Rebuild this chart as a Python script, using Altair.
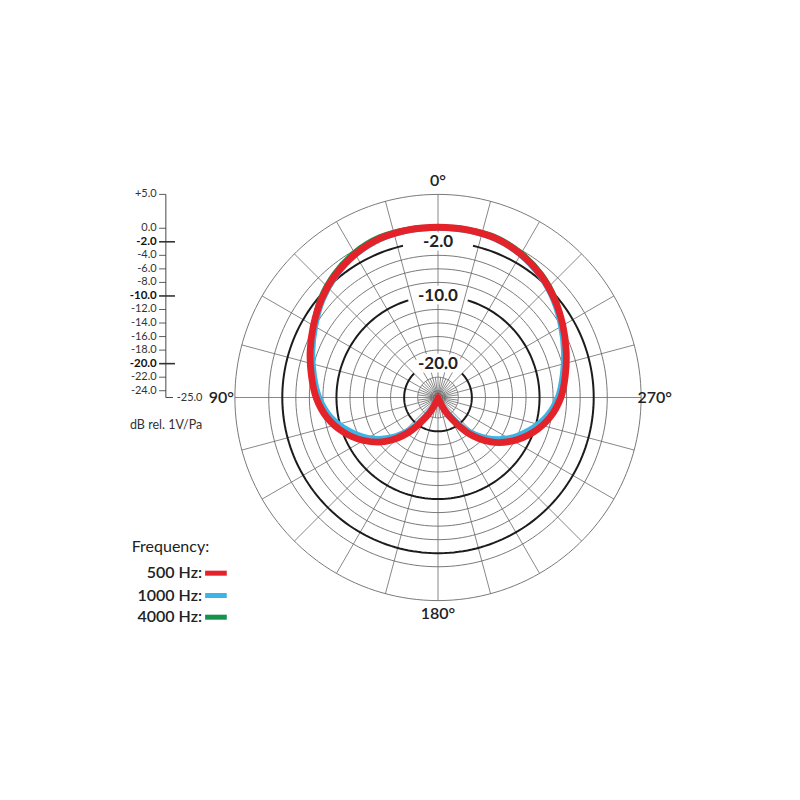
import altair as alt
import pandas as pd
import numpy as np

# ---------------- data ----------------
ANGLES = list(range(0, 360, 10))  # degrees, counter-clockwise from top (90 on the left)

DB_500 = [0.15, 0.15, 0.0, -0.55, -1.4, -2.5, -3.75, -4.9, -6.0, -7.0,
          -8.3, -10.1, -12.3, -14.9, -18.3, -22.0, -24.4, -24.9,
          -25.0,
          -24.9, -24.4, -22.0, -18.2, -14.8, -12.2, -10.0, -8.2, -6.85,
          -5.9, -4.85, -3.7, -2.5, -1.4, -0.55, 0.0, 0.15]
DB_1000 = [0.1, 0.1, -0.05, -0.6, -1.5, -2.65, -4.0, -5.2, -6.35, -7.4,
           -8.8, -10.8, -13.0, -15.7, -19.0, -22.6, -24.6, -24.95,
           -25.0,
           -24.95, -24.6, -22.6, -18.9, -15.6, -12.9, -10.7, -8.7, -7.25,
           -6.25, -5.15, -3.95, -2.65, -1.5, -0.6, -0.05, 0.1]
DB_4000 = [0.15, 0.25, 0.25, -0.25, -1.15, -2.3, -3.75, -5.0, -6.1, -7.1,
           -8.5, -10.4, -12.6, -15.2, -18.6, -22.3, -24.5, -24.9,
           -25.0,
           -24.9, -24.5, -22.3, -18.5, -15.1, -12.5, -10.2, -8.4, -6.95,
           -6.0, -4.95, -3.75, -2.35, -1.2, -0.35, 0.2, 0.2]

SERIES = ["500 Hz", "1000 Hz", "4000 Hz"]
COLORS = ["#e3222a", "#3cb4e6", "#16924a"]
WIDTHS = [6.8, 6.5, 5.0]

DB_MIN, DB_MAX = -25.0, 5.0
SCALE_DB = [5.0, 0.0, -2.0, -4.0, -6.0, -8.0, -10.0, -12.0, -14.0,
            -16.0, -18.0, -20.0, -22.0, -24.0]
SCALE_LABELS = ["+5.0", "0.0", "-2.0", "-4.0", "-6.0", "-8.0", "-10.0", "-12.0",
                "-14.0", "-16.0", "-18.0", "-20.0", "-22.0", "-24.0"]
BOLD_DB = [-2.0, -10.0, -20.0]
BOLD_LABELS = ["-2.0", "-10.0", "-20.0"]
BOLD_GAP = [13.0, 17.0, 45.0]        # half-width of the label gap, degrees
ANGLE_TICKS = [0, 90, 180, 270]
ANGLE_LABELS = ["0°", "90°", "180°", "270°"]
MAJOR_SPOKE_STEP = 15.0
MINOR_SPOKE_STEP = 7.5
MINOR_SPOKE_DB = -22.0

# ---------------- layout (units = dB above the -25 dB centre) ----------------
W = H = 780
PX = 6.77                 # pixels per dB
CX, CY = 438.0, 397.5     # page position of the pole
XDOM = [(8 - CX) / PX, (8 + W - CX) / PX]
YDOM = [(CY - 8 - H) / PX, (CY - 8) / PX]
R_OUT = DB_MAX - DB_MIN
LABEL_R = R_OUT + 2.0

AXIS_X = -40.2
TICK_L = -41.2
BOLD_TICK_R = -38.85
L_END = -39.15
FONT = "Lato"
INK = "#222222"

xs = alt.Scale(domain=XDOM, nice=False, zero=False)
ys = alt.Scale(domain=YDOM, nice=False, zero=False)


def X(f="x"):
    return alt.X(f"{f}:Q", scale=xs, axis=None)


def Y(f="y"):
    return alt.Y(f"{f}:Q", scale=ys, axis=None)


def polar(chart, ang="angle", db="db", suffix=""):
    return chart.transform_calculate(
        **{f"r{suffix}": f"max(datum.{db} - ({DB_MIN}), 0)"}
    ).transform_calculate(
        **{f"x{suffix}": f"-datum.r{suffix} * sin(datum.{ang} * PI / 180)",
           f"y{suffix}": f"datum.r{suffix} * cos(datum.{ang} * PI / 180)"}
    )


# ---------------- grid ----------------
ring_rows = []
for db in SCALE_DB:
    if db in BOLD_DB:
        continue
    for a in np.arange(0, 362, 2):
        ring_rows.append({"ring": db, "angle": float(a), "db": db})
rings = polar(alt.Chart(pd.DataFrame(ring_rows))).mark_line(
    color="#6a6a6a", strokeWidth=0.9).encode(
    x=X(), y=Y(), detail="ring:N", order="angle:Q")

bold_rows = []
for db, gap in zip(BOLD_DB, BOLD_GAP):
    for a in np.linspace(gap, 360 - gap, 200):
        bold_rows.append({"ring": db, "angle": float(a), "db": db})
bold_rings = polar(alt.Chart(pd.DataFrame(bold_rows))).mark_line(
    color="#1c1c1c", strokeWidth=2.0).encode(
    x=X(), y=Y(), detail="ring:N", order="angle:Q")

spoke_rows = []
for a in np.arange(0, 360, MINOR_SPOKE_STEP):
    major = abs((a / MAJOR_SPOKE_STEP) - round(a / MAJOR_SPOKE_STEP)) < 1e-9
    outer = DB_MAX if major else MINOR_SPOKE_DB
    spoke_rows.append({"angle": float(a), "db0": DB_MIN, "db1": outer})
sp = alt.Chart(pd.DataFrame(spoke_rows))
sp = polar(sp, db="db0", suffix="0")
sp = polar(sp, db="db1", suffix="1")
spokes = sp.mark_rule(color="#6a6a6a", strokeWidth=0.8).encode(
    x=X("x0"), y=Y("y0"), x2="x1:Q", y2="y1:Q")

pole = alt.Chart(pd.DataFrame({"angle": [0], "db": [DB_MIN]}))
pole = polar(pole).mark_point(filled=True, size=70, fill="#c4c4c4",
                              stroke="#5a5a5a", strokeWidth=1, opacity=1).encode(
    x=X(), y=Y())

# ring labels with white halo
rl_df = pd.DataFrame({"angle": [0] * len(BOLD_DB), "db": BOLD_DB, "label": BOLD_LABELS})
rl_base = polar(alt.Chart(rl_df))
ring_halo = rl_base.mark_text(font=FONT, fontSize=17, fontWeight="bold",
                              stroke="white", strokeWidth=7, fill="white",
                              baseline="middle").encode(x=X(), y=Y(), text="label:N")
ring_text = rl_base.mark_text(font=FONT, fontSize=17, fontWeight="bold", color=INK,
                              baseline="middle").encode(x=X(), y=Y(), text="label:N")

# angle labels
al_df = pd.DataFrame({"angle": ANGLE_TICKS, "db": [DB_MIN + LABEL_R] * 4, "label": ANGLE_LABELS})
angle_text = polar(alt.Chart(al_df)).mark_text(
    font=FONT, fontSize=16, fontWeight=600, color=INK, baseline="middle").encode(
    x=X(), y=Y(), text="label:N")

# ---------------- curves ----------------
crv_rows = []
for s, vals in zip(SERIES, [DB_500, DB_1000, DB_4000]):
    for a, d in zip(ANGLES, vals):
        crv_rows.append({"series": s, "angle": a, "db": d})
crv_df = pd.DataFrame(crv_rows)
color = alt.Color("series:N", scale=alt.Scale(domain=SERIES, range=COLORS), legend=None)

curve_layers = []
for s, w in [(SERIES[2], WIDTHS[2]), (SERIES[1], WIDTHS[1]), (SERIES[0], WIDTHS[0])]:
    c = polar(alt.Chart(crv_df).transform_filter(alt.datum.series == s)).mark_line(
        interpolate="cardinal-closed", tension=0, strokeWidth=w,
        strokeCap="round", strokeJoin="round").encode(
        x=X(), y=Y(), color=color, order="angle:Q")
    curve_layers.append(c)

# ---------------- left dB scale ----------------
sc_df = pd.DataFrame({"db": SCALE_DB, "label": SCALE_LABELS,
                      "bold": [d in BOLD_DB for d in SCALE_DB]})
sc_df["y"] = sc_df["db"] - DB_MIN
sc_df["xl"] = TICK_L
sc_df["xr"] = [BOLD_TICK_R if b else AXIS_X for b in sc_df["bold"]]
sc_df["xt"] = TICK_L - 0.35
sc = alt.Chart(sc_df)
scale_ticks = sc.mark_rule(color="#333333").encode(
    x=X("xl"), x2="xr:Q", y=Y("y"),
    strokeWidth=alt.condition("datum.bold", alt.value(1.6), alt.value(0.8)))
scale_text_b = sc.transform_filter("datum.bold").mark_text(
    font=FONT, fontSize=11.5, fontWeight="bold", color="#111111", align="right",
    baseline="middle").encode(x=X("xt"), y=Y("y"), text="label:N")
scale_text_n = sc.transform_filter("!datum.bold").mark_text(
    font=FONT, fontSize=11, color="#333333", align="right",
    baseline="middle").encode(x=X("xt"), y=Y("y"), text="label:N")

axis_df = pd.DataFrame({"x": [AXIS_X, AXIS_X], "y": [R_OUT, 0.0],
                        "x2": [AXIS_X, L_END], "y2": [0.0, 0.0]})
axis_lines = alt.Chart(axis_df).mark_rule(color="#333333", strokeWidth=0.9).encode(
    x=X(), y=Y(), x2="x2:Q", y2="y2:Q")

misc_df = pd.DataFrame({"x": [L_END + 0.55, -45.5], "y": [0.0, -4.05],
                        "label": [f"{DB_MIN:.1f}", "dB rel. 1V/Pa"],
                        "size": [11, 12.5]})
misc_text = alt.Chart(misc_df).mark_text(font=FONT, color="#333333", align="left",
                                         baseline="middle").encode(
    x=X(), y=Y(), text="label:N", size=alt.Size("size:Q", scale=None, legend=None))

# ---------------- legend ----------------
LEG_X = -45.24
LEG_TITLE_Y = -22.1
LEG_ROW_Y = [-25.95, -29.25, -32.45]
LEG_LABEL_R = -34.85
SW_X0, SW_X1 = -34.4, -31.2

title = alt.Chart(pd.DataFrame({"x": [LEG_X], "y": [LEG_TITLE_Y], "t": ["Frequency:"]})).mark_text(
    font=FONT, fontSize=16, color=INK, align="left", baseline="middle").encode(
    x=X(), y=Y(), text="t:N")
leg_df = pd.DataFrame({"series": SERIES, "y": LEG_ROW_Y,
                       "label": [s + ":" for s in SERIES],
                       "xl": [LEG_LABEL_R] * 3, "x0": [SW_X0] * 3, "x1": [SW_X1] * 3})
leg_labels = alt.Chart(leg_df).mark_text(font=FONT, fontSize=16, fontWeight=600, color=INK,
                                         align="right", baseline="middle").encode(
    x=X("xl"), y=Y("y"), text="label:N")
leg_sw = alt.Chart(leg_df).mark_rule(strokeWidth=5).encode(
    x=X("x0"), x2="x1:Q", y=Y("y"), color=color)

chart = alt.layer(
    rings, spokes, bold_rings, pole,
    *curve_layers,
    ring_halo, ring_text, angle_text,
    axis_lines, scale_ticks, scale_text_n, scale_text_b, misc_text,
    title, leg_labels, leg_sw,
).properties(width=W, height=H, padding=0, autosize="none", background="white"
).configure_view(stroke=None)

chart.save("out.html", embed_options={"renderer": "svg", "actions": False})
